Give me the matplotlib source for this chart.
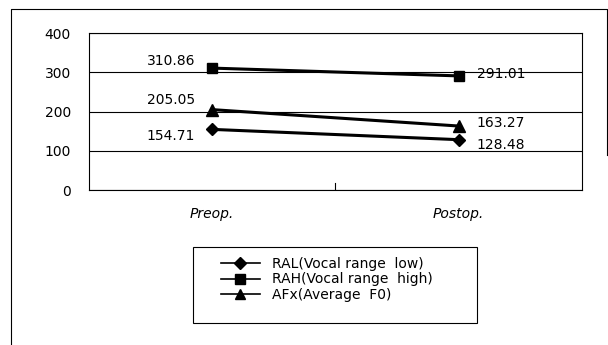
import matplotlib.pyplot as plt
from matplotlib.lines import Line2D
from matplotlib.patches import Rectangle

# Data
stages = ['Preop.', 'Postop.']
ral = [154.71, 128.48]
rah = [310.86, 291.01]
afx = [205.05, 163.27]
series_names = ['RAL(Vocal range  low)', 'RAH(Vocal range  high)', 'AFx(Average  F0)']

plt.rcParams['font.family'] = ['DejaVu Sans']

fig = plt.figure(figsize=(6.08, 3.45), dpi=100)
ax = fig.add_axes([0.1464, 0.449, 0.8106, 0.455])

x = [0, 1]
ax.plot(x, ral, color='black', lw=2.2, marker='D', ms=6)
ax.plot(x, rah, color='black', lw=2.2, marker='s', ms=7)
ax.plot(x, afx, color='black', lw=2.2, marker='^', ms=8)

# value labels: left of the first point, right of the second (pixel offsets)
label_dy = {'ral': (-7, -5), 'rah': (7, 2), 'afx': (10, 3)}
for key, vals in (('ral', ral), ('rah', rah), ('afx', afx)):
    dy0, dy1 = label_dy[key]
    ax.annotate(f'{vals[0]:.2f}', (0, vals[0]), xytext=(-17, dy0),
                textcoords='offset pixels', ha='right', va='center', fontsize=10)
    ax.annotate(f'{vals[1]:.2f}', (1, vals[1]), xytext=(18, dy1),
                textcoords='offset pixels', ha='left', va='center', fontsize=10)

ax.set_xlim(-0.5, 1.5)
ax.set_ylim(0, 400)
ax.set_yticks([0, 100, 200, 300, 400])
ax.set_xticks(x, stages, fontstyle='italic')
ax.tick_params(axis='both', length=0, labelsize=10)
ax.tick_params(axis='y', pad=13)
ax.tick_params(axis='x', pad=12)
ax.axvline(0.5, ymin=0, ymax=0.045, color='black', lw=0.8)
ax.grid(axis='y', color='black', lw=0.8)
ax.set_axisbelow(True)
for s in ax.spines.values():
    s.set_linewidth(0.8)

# legend with its own frame
handles = [Line2D([], [], color='black', lw=1.2, marker=m, ms=ms)
           for m, ms in (('D', 6), ('s', 7), ('^', 7))]
fig.legend(handles, series_names, loc='upper left', bbox_to_anchor=(0.352, 0.275),
           frameon=False, fontsize=10, handlelength=2.8, handletextpad=0.9,
           labelspacing=0.1, borderpad=0)
fig.add_artist(Rectangle((193 / 608, 1 - 323 / 345), 284 / 608, 76 / 345,
                         transform=fig.transFigure, fill=False, lw=0.8, color='black'))

# outer chart border
fig.add_artist(Line2D([11 / 608, 11 / 608, 607 / 608, 607 / 608],
                      [0, 1 - 9 / 345, 1 - 9 / 345, 0.55],
                      transform=fig.transFigure, color='black', lw=0.8))

fig.savefig('out.png', dpi=100)
plt.close(fig)
